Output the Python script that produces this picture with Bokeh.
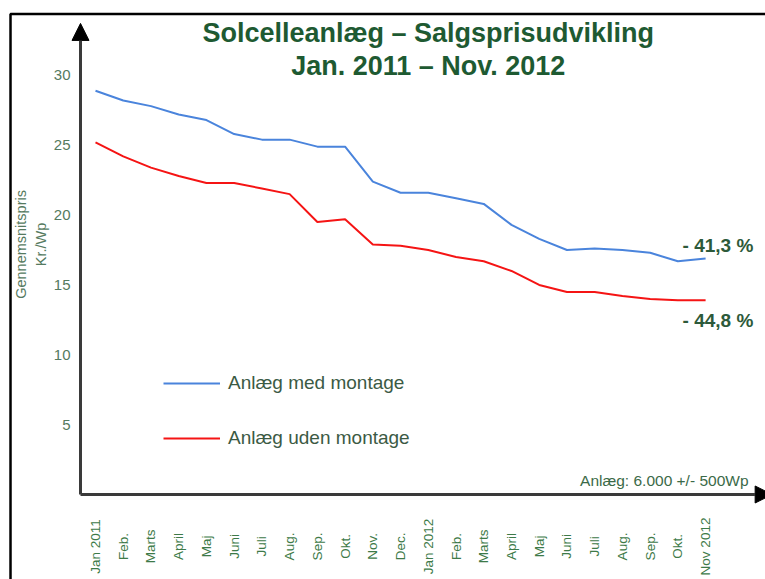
import math
from bokeh.plotting import figure
from bokeh.models import (Range1d, FixedTicker, Label, Legend, LegendItem, Arrow,
                          NormalHead, ColumnDataSource, BoxAnnotation)
from bokeh.core.properties import value
from bokeh.embed import file_html
from bokeh.resources import INLINE

# ---------------- data ----------------
month_labels = ["Jan 2011", "Feb.", "Marts", "April", "Maj", "Juni", "Juli", "Aug.",
                "Sep.", "Okt.", "Nov.", "Dec.", "Jan 2012", "Feb.", "Marts", "April",
                "Maj", "Juni", "Juli", "Aug.", "Sep.", "Okt.", "Nov 2012"]
med_montage = [28.9, 28.2, 27.8, 27.2, 26.8, 25.8, 25.4, 25.4, 24.9, 24.9, 22.4, 21.6,
               21.6, 21.2, 20.8, 19.3, 18.3, 17.5, 17.6, 17.5, 17.3, 16.7, 16.9]
uden_montage = [25.2, 24.2, 23.4, 22.8, 22.3, 22.3, 21.9, 21.5, 19.5, 19.7, 17.9, 17.8,
                17.5, 17.0, 16.7, 16.0, 15.0, 14.5, 14.5, 14.2, 14.0, 13.9, 13.9]
y_ticks = [5, 10, 15, 20, 25, 30]
series_names = ["Anlæg med montage", "Anlæg uden montage"]
change_labels = ["- 41,3 %", "- 44,8 %"]
title_lines = ["Solcelleanlæg – Salgsprisudvikling", "Jan. 2011 – Nov. 2012"]
y_title_lines = ["Gennemsnitspris", "Kr./Wp"]
note = "Anlæg: 6.000 +/- 500Wp"

FONT = "Liberation Sans"
x = list(range(len(month_labels)))

# ranges chosen so that the whole canvas is the plot frame
X0, X1 = -3.426, 24.16
Y0, Y1 = -6.085, 35.36
AX_X = -0.541          # position of the vertical axis
AX_TOP = 33.72         # tip of the vertical axis arrow

p = figure(width=765, height=579, output_backend="svg", toolbar_location=None,
           x_range=Range1d(X0, X1), y_range=Range1d(Y0, Y1),
           min_border=0)
p.outline_line_color = None
p.grid.grid_line_color = None
p.background_fill_color = "white"
p.border_fill_color = "white"

# frame of the picture (left and top edges)
p.add_layout(BoxAnnotation(left=-3.065, top=34.39, right=30, bottom=-10,
                           fill_alpha=0, line_color="black", line_alpha=1.0,
                           line_width=2.5))

src = ColumnDataSource(dict(x=x, med=med_montage, uden=uden_montage))
r1 = p.line("x", "med", source=src, line_color="#4a84dc", line_width=2)
r2 = p.line("x", "uden", source=src, line_color="#f51414", line_width=2)

# axes (drawn at fixed data positions inside the frame)
xa = p.xaxis[0]
ya = p.yaxis[0]
xa.fixed_location = 0
ya.fixed_location = AX_X
xa.bounds = (AX_X, X1)
ya.bounds = (0, AX_TOP - 1.0)
for ax in (xa, ya):
    ax.axis_line_color = "#3a3a3a"
    ax.axis_line_width = 3
    ax.major_tick_line_color = None
    ax.minor_tick_line_color = None

ya.ticker = FixedTicker(ticks=y_ticks)
ya.major_label_text_font = FONT
ya.major_label_text_font_size = "15px"
ya.major_label_text_color = "#557a60"
ya.major_label_standoff = 4

xa.ticker = FixedTicker(ticks=[])
xa.major_label_text_font_size = "0px"

# month labels (vertical, centred under each month)
lab_src = ColumnDataSource(dict(x=x, y=[0] * len(x), t=month_labels))
p.text("x", "y", text="t", source=lab_src, angle=math.pi / 2, y_offset=52,
       text_align="center", text_baseline="middle", text_font=value(FONT),
       text_font_size="13.5px", text_color="#3d7a48")

# y axis title
p.add_layout(Label(x=AX_X, y=17.9, x_offset=-60, text=y_title_lines[0], angle=math.pi / 2,
                   text_align="center", text_baseline="middle", text_font=FONT,
                   text_font_size="14.5px", text_color="#557a60"))
p.add_layout(Label(x=AX_X, y=17.9, x_offset=-40, text=y_title_lines[1], angle=math.pi / 2,
                   text_align="center", text_baseline="middle", text_font=FONT,
                   text_font_size="14.5px", text_color="#557a60"))

# arrow heads on axes
p.add_layout(Arrow(end=NormalHead(size=17, fill_color="black", line_color="black"),
                   x_start=AX_X, y_start=AX_TOP - 1.5, x_end=AX_X, y_end=AX_TOP,
                   line_color="#3a3a3a", line_width=3))
p.add_layout(Arrow(end=NormalHead(size=17, fill_color="black", line_color="black"),
                   x_start=23.6, y_start=0, x_end=24.4, y_end=0,
                   line_color="#3a3a3a", line_width=3))

# title
p.add_layout(Label(x=12, y=33.0, text=title_lines[0], text_align="center",
                   text_baseline="middle", text_font=FONT, text_font_style="bold",
                   text_font_size="27px", text_color="#1e5a32"))
p.add_layout(Label(x=12, y=30.7, text=title_lines[1], text_align="center",
                   text_baseline="middle", text_font=FONT, text_font_style="bold",
                   text_font_size="27px", text_color="#1e5a32"))

# change labels near the line ends
last = len(x) - 1
p.add_layout(Label(x=last, y=med_montage[-1], x_offset=-23, y_offset=13,
                   text=change_labels[0], text_align="left", text_baseline="middle",
                   text_font=FONT, text_font_style="bold", text_font_size="19px",
                   text_color="#2d5a3a"))
p.add_layout(Label(x=last, y=uden_montage[-1], x_offset=-23, y_offset=-20,
                   text=change_labels[1], text_align="left", text_baseline="middle",
                   text_font=FONT, text_font_style="bold", text_font_size="19px",
                   text_color="#2d5a3a"))

# note
p.add_layout(Label(x=X1, y=0, x_offset=-17, y_offset=14, text=note,
                   text_align="right", text_baseline="middle", text_font=FONT,
                   text_font_size="15.5px", text_color="#3b6a48"))

legend = Legend(items=[LegendItem(label=series_names[0], renderers=[r1]),
                       LegendItem(label=series_names[1], renderers=[r2])],
                location=(163, 130), padding=0, margin=0, border_line_color=None,
                background_fill_alpha=0, glyph_width=57, glyph_height=22,
                label_height=22, label_standoff=8, spacing=33,
                label_text_font=FONT, label_text_font_size="19px",
                label_text_color="#3b5a44")
p.add_layout(legend)

open("out.html", "w").write(file_html(p, INLINE))
